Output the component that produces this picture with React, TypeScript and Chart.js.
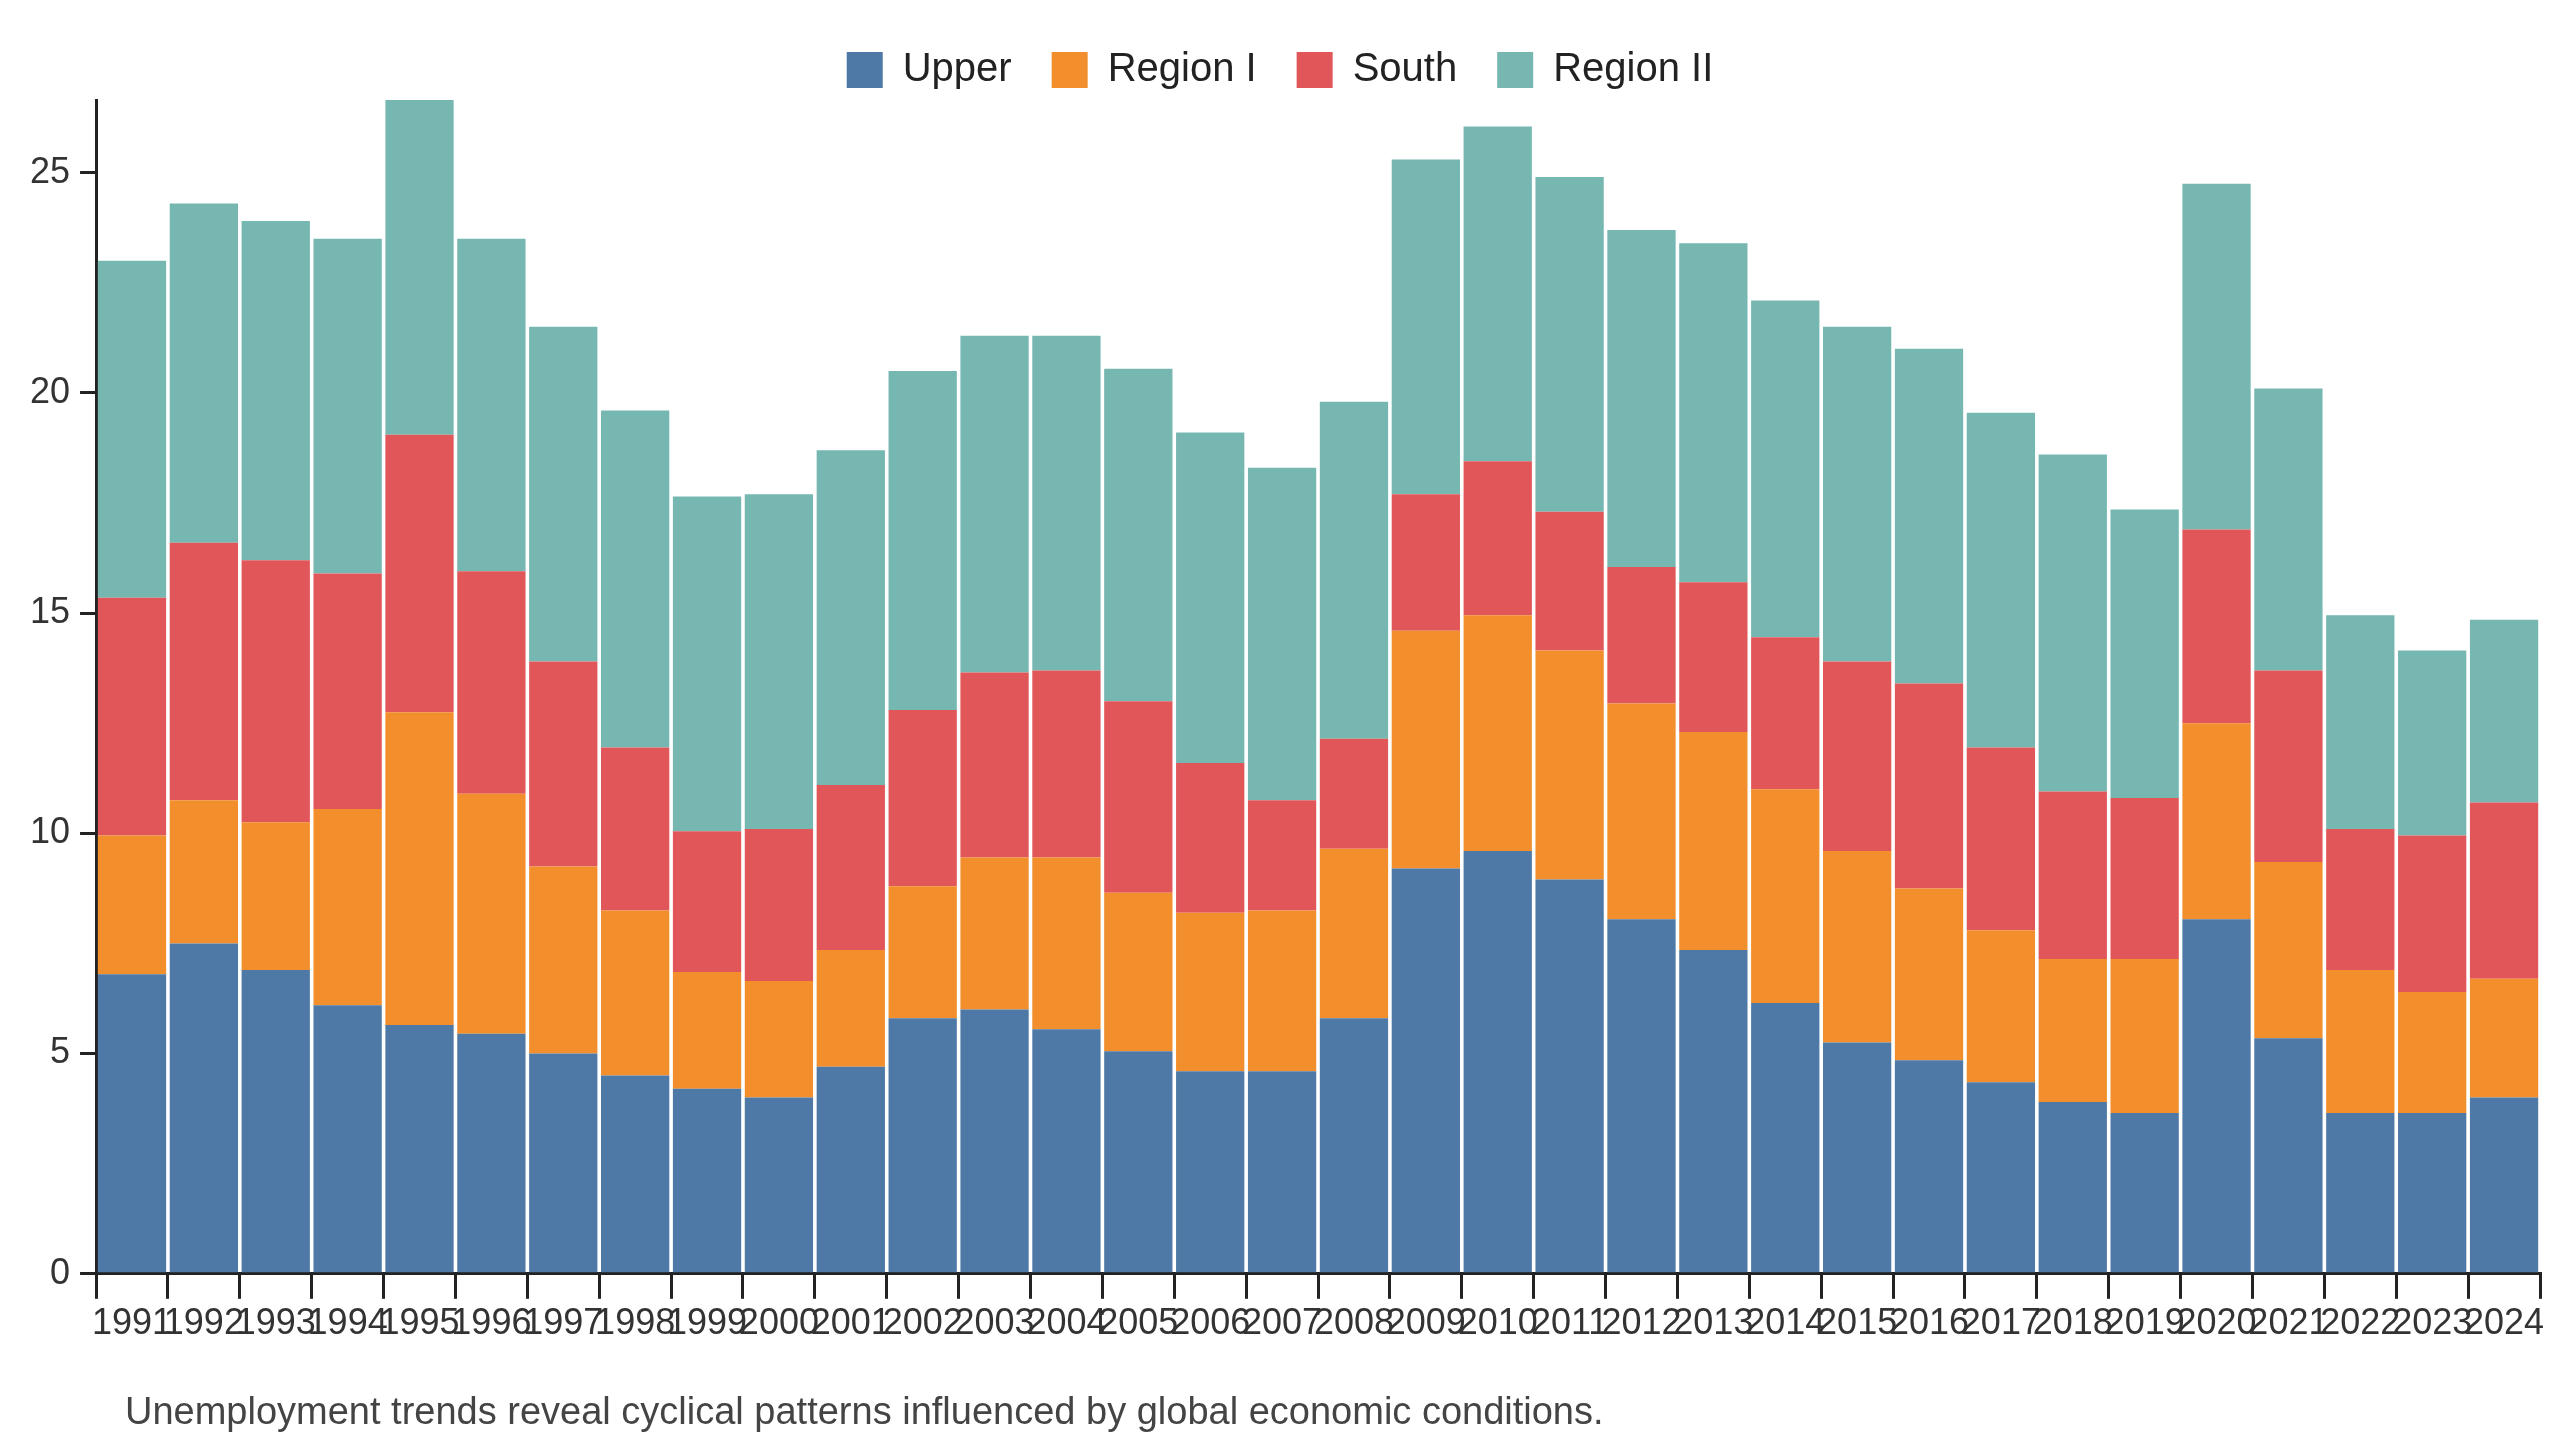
import React, { useEffect, useRef } from "react";
import { Chart, registerables } from "chart.js";
Chart.register(...registerables);

const years = ["1991","1992","1993","1994","1995","1996","1997","1998","1999","2000","2001","2002","2003","2004","2005","2006","2007","2008","2009","2010","2011","2012","2013","2014","2015","2016","2017","2018","2019","2020","2021","2022","2023","2024"];
const upper = [6.8,7.5,6.9,6.1,5.65,5.45,5.0,4.5,4.2,4.0,4.7,5.8,6.0,5.55,5.05,4.6,4.6,5.8,9.2,9.6,8.95,8.05,7.35,6.15,5.25,4.85,4.35,3.9,3.65,8.05,5.35,3.65,3.65,4.0];
const regionI = [3.15,3.25,3.35,4.45,7.1,5.45,4.25,3.75,2.65,2.65,2.65,3.0,3.45,3.9,3.6,3.6,3.65,3.85,5.4,5.35,5.2,4.9,4.95,4.85,4.35,3.9,3.45,3.25,3.5,4.45,4.0,3.25,2.75,2.7];
const south = [5.4,5.85,5.95,5.35,6.3,5.05,4.65,3.7,3.2,3.45,3.75,4.0,4.2,4.25,4.35,3.4,2.5,2.5,3.1,3.5,3.15,3.1,3.4,3.45,4.3,4.65,4.15,3.8,3.65,4.4,4.35,3.2,3.55,4.0];
const regionII = [7.65,7.7,7.7,7.6,7.6,7.55,7.6,7.65,7.6,7.6,7.6,7.7,7.65,7.6,7.55,7.5,7.55,7.65,7.6,7.6,7.6,7.65,7.7,7.65,7.6,7.6,7.6,7.65,6.55,7.85,6.4,4.85,4.2,4.15];
const caption = "Unemployment trends reveal cyclical patterns influenced by global economic conditions.";

export default function App() {
  const ref = useRef<HTMLCanvasElement>(null);
  useEffect(() => {
    document.body.style.margin = "0";
    const font = "'Liberation Sans', Arial, sans-serif";
    const mk = (label: string, data: number[], c: string) => ({
      label, data, backgroundColor: c, borderWidth: 0,
      barPercentage: 0.95, categoryPercentage: 1,
    });
    const chart = new Chart(ref.current!, {
      type: "bar",
      data: {
        labels: years,
        datasets: [
          mk("Upper", upper, "#4e79a7"),
          mk("Region I", regionI, "#f28e2b"),
          mk("South", south, "#e15759"),
          mk("Region II", regionII, "#76b7b2"),
        ],
      },
      options: {
        animation: false,
        responsive: false,
        layout: { padding: { left: 20, right: 20, top: 10, bottom: 90 } },
        plugins: {
          tooltip: { enabled: false },
          legend: {
            position: "top",
            labels: {
              font: { family: font, size: 40 },
              color: "#222",
              boxWidth: 36, boxHeight: 36,
              padding: 40,
            },
          },
        },
        scales: {
          x: {
            stacked: true,
            grid: { drawOnChartArea: false, offset: true, color: "#222", lineWidth: 3, tickLength: 25 },
            border: { color: "#222", width: 3 },
            ticks: { font: { family: font, size: 36 }, color: "#333", maxRotation: 0, autoSkip: false, padding: 4 },
          },
          y: {
            stacked: true,
            min: 0, max: 26.65,
            afterBuildTicks: (a: any) => { a.ticks = [0,5,10,15,20,25].map(v => ({ value: v })); },
            grid: { drawOnChartArea: false, color: "#222", lineWidth: 3, tickLength: 16 },
            border: { color: "#222", width: 3 },
            ticks: { font: { family: font, size: 36 }, color: "#333", padding: 10 },
          },
        },
      },
    });
    return () => chart.destroy();
  }, []);
  return (
    <div style={{ position: "relative", width: 2560, height: 1440 }}>
      <canvas ref={ref} width={2560} height={1440} />
      <div style={{ position: "absolute", left: 125, top: 1390, fontFamily: "'Liberation Sans', Arial, sans-serif", fontSize: 38, color: "#444" }}>{caption}</div>
    </div>
  );
}
